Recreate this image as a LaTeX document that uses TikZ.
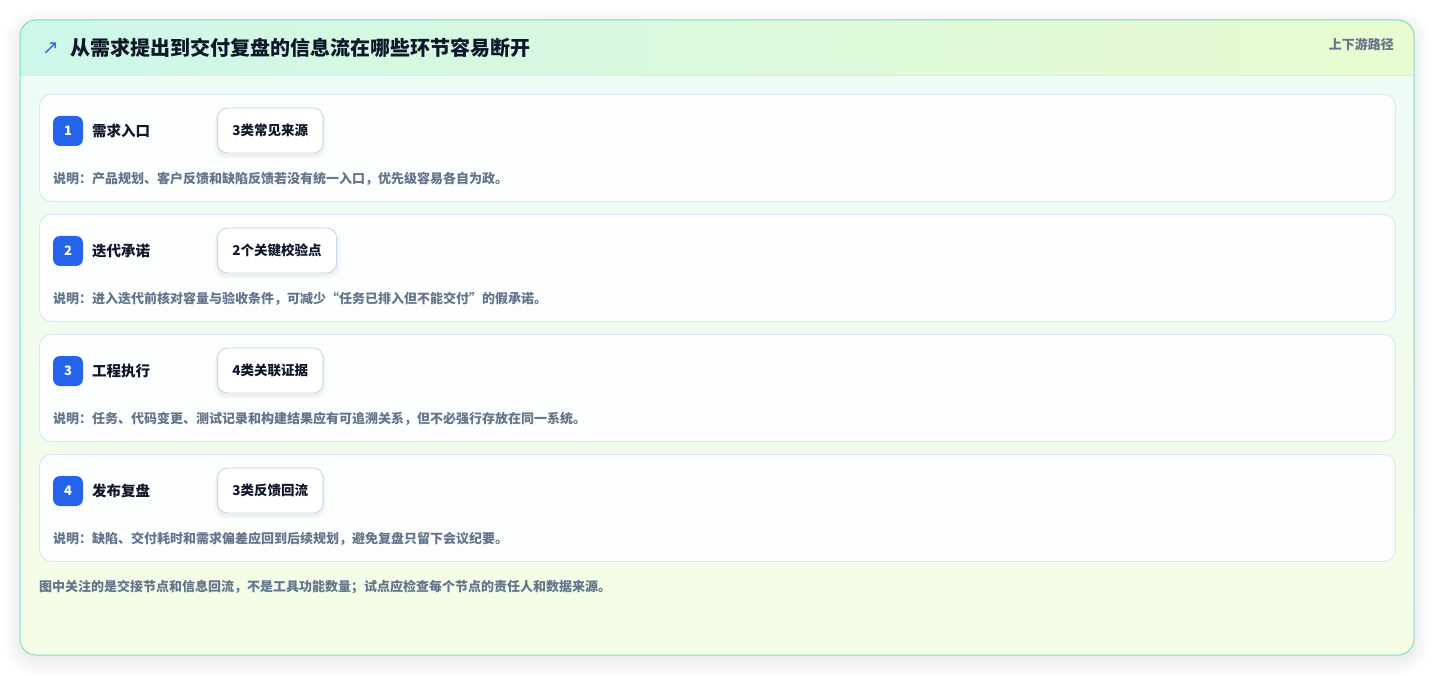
\documentclass[tikz,border=0pt]{standalone}
\usepackage{fontspec}
\setmainfont{Noto Sans CJK SC}
\newfontfamily\symfont{DejaVu Sans}
\usetikzlibrary{shadows}
\definecolor{headl}{HTML}{CDF7E9}
\definecolor{headr}{HTML}{E9FBD0}
\definecolor{bodytop}{HTML}{EEFBF6}
\definecolor{bodybot}{HTML}{F5FDE6}
\definecolor{outerline}{HTML}{7EDCCB}
\definecolor{sepline}{HTML}{D6EEEA}
\definecolor{cardline}{HTML}{D9E7F4}
\definecolor{cardfill}{HTML}{FCFEFD}
\definecolor{pillline}{HTML}{C5D5F2}
\definecolor{badgeblue}{HTML}{2563EB}
\definecolor{arrowblue}{HTML}{3470DC}
\definecolor{darktext}{HTML}{0F172A}
\definecolor{graytext}{HTML}{64748B}
\tikzset{
  rowcard/.style={draw=cardline, line width=0.9pt, fill=cardfill, rounded corners=12pt, minimum width=1356pt, minimum height=107pt, anchor=north west, inner sep=0pt},
  badge/.style={fill=badgeblue, rounded corners=7pt, minimum size=30pt, inner sep=0pt, text=white, font=\bfseries\fontsize{13}{15}\selectfont},
  steplabel/.style={anchor=west, inner sep=0pt, text=darktext, font=\bfseries\fontsize{14.5}{17}\selectfont},
  pill/.style={draw=pillline, line width=0.9pt, fill=white, rounded corners=10pt, minimum height=45pt, inner xsep=15pt, inner ysep=0pt, anchor=west, text=darktext, font=\bfseries\fontsize{13.5}{16}\selectfont,
    general shadow={shadow yshift=-4pt, shadow scale=1.06, fill=black, opacity=0.022},
    general shadow={shadow yshift=-3pt, shadow scale=1.02, fill=black, opacity=0.028}},
  desc/.style={anchor=west, inner sep=0pt, text=graytext, font=\bfseries\fontsize{13}{15}\selectfont},
}
\begin{document}
\begin{tikzpicture}[x=1pt,y=-1pt]
\useasboundingbox (0,0) rectangle (1435,676);
\fill[white] (0,0) rectangle (1435,676);
% soft outer shadow
\foreach \i in {1,...,16} {
  \fill[black, opacity=0.0042, rounded corners={(16+\i)*1pt}] (20-\i,26-\i) rectangle (1414+\i,659+\i);
}
% card background
\begin{scope}
  \clip[rounded corners=16pt] (20,20) rectangle (1414,655);
  \shade[top color=bodytop, bottom color=bodybot] (20,75) rectangle (1414,655);
  \shade[left color=headl, right color=headr] (20,20) rectangle (1414,75);
\end{scope}
\draw[sepline, line width=0.8pt] (20,75) -- (1414,75);
\draw[outerline, line width=1pt, rounded corners=16pt] (20,20) rectangle (1414,655);
% header
\node[inner sep=0pt, text=arrowblue, font=\symfont\fontsize{20}{22}\selectfont] (icon) at (50.5,48.5) {↗};
\node[anchor=west, inner sep=0pt, text=darktext, font=\bfseries\fontsize{20}{24}\selectfont] (title) at (70,48) {从需求提出到交付复盘的信息流在哪些环节容易断开};
\node[anchor=east, inner sep=0pt, text=graytext, font=\bfseries\fontsize{13}{15}\selectfont] (tag) at (1394,44) {上下游路径};
% rows
\foreach \n/\lab/\pilltext/\desctext in {
  1/需求入口/3类常见来源/说明：产品规划、客户反馈和缺陷反馈若没有统一入口，优先级容易各自为政。,
  2/迭代承诺/2个关键校验点/说明：进入迭代前核对容量与验收条件，可减少“任务已排入但不能交付”的假承诺。,
  3/工程执行/4类关联证据/说明：任务、代码变更、测试记录和构建结果应有可追溯关系，但不必强行存放在同一系统。,
  4/发布复盘/3类反馈回流/说明：缺陷、交付耗时和需求偏差应回到后续规划，避免复盘只留下会议纪要。} {
  \pgfmathsetmacro\T{94+120*(\n-1)}
  \node[rowcard] (card\n) at (39,\T) {};
  \node[badge] (badge\n) at (68,\T+37) {\n};
  \node[steplabel] (label\n) at (92,\T+37) {\lab};
  \node[pill] (pill\n) at (217,\T+36.5) {\pilltext};
  \node[desc] (desc\n) at (53,\T+85) {\desctext};
}
% footer
\node[anchor=west, inner sep=0pt, text=graytext, font=\bfseries\fontsize{13}{15}\selectfont] (footer) at (39,587) {图中关注的是交接节点和信息回流，不是工具功能数量；试点应检查每个节点的责任人和数据来源。};
\end{tikzpicture}
\end{document}
